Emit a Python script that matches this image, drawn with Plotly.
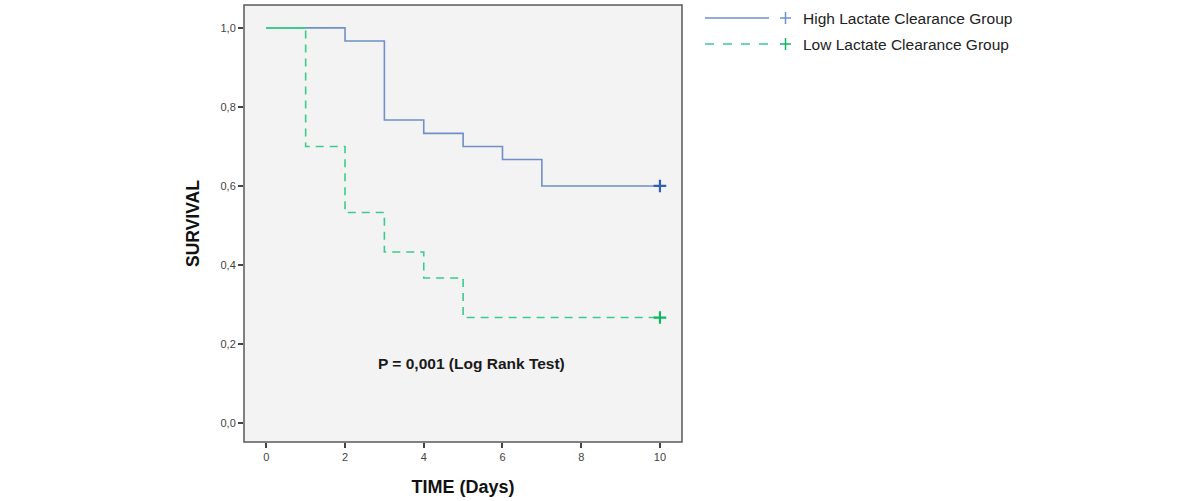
import plotly.graph_objects as go

# Kaplan-Meier data
high_times = [0, 2, 3, 4, 5, 6, 7, 10]
high_surv = [1.0, 0.967, 0.767, 0.733, 0.700, 0.667, 0.600, 0.600]
low_times = [0, 1, 2, 3, 4, 5, 10]
low_surv = [1.0, 0.700, 0.533, 0.433, 0.367, 0.267, 0.267]
censor_time = [10]
high_censor = [0.600]
low_censor = [0.267]
series_names = ["High Lactate Clearance Group", "Low Lactate Clearance Group"]
x_ticks = [0, 2, 4, 6, 8, 10]
y_ticks = [0.0, 0.2, 0.4, 0.6, 0.8, 1.0]

BLUE = "#6f90c9"
BLUE_D = "#2f62ad"
GREEN = "#3ccb8f"
GREEN_D = "#12b564"

fig = go.Figure()
fig.add_trace(go.Scatter(x=high_times, y=high_surv, mode="lines", line=dict(color=BLUE, width=1.6, shape="hv"),
                         name=series_names[0], showlegend=False))
fig.add_trace(go.Scatter(x=low_times, y=low_surv, mode="lines",
                         line=dict(color=GREEN, width=1.6, shape="hv", dash="8px,6px"),
                         name=series_names[1], showlegend=False))
fig.add_trace(go.Scatter(x=low_times[:2], y=[low_surv[0], low_surv[0]], mode="lines",
                         line=dict(color=GREEN, width=1.6), showlegend=False))
fig.add_trace(go.Scatter(x=censor_time, y=high_censor, mode="markers",
                         marker=dict(symbol="cross-thin", size=9, line=dict(color=BLUE_D, width=2.2)),
                         showlegend=False))
fig.add_trace(go.Scatter(x=censor_time, y=low_censor, mode="markers",
                         marker=dict(symbol="cross-thin", size=9, line=dict(color=GREEN_D, width=2.2)),
                         showlegend=False))

L, R, T, B = 244, 682, 5, 442
W, H = 1200, 501

def px(x):
    return (x - L) / (R - L)

def py(y):
    return (B - y) / (B - T)

shapes = []
annotations = []
# custom legend
legend_rows = [(18, BLUE, "solid", BLUE, series_names[0]), (44, GREEN, "dash", GREEN_D, series_names[1])]
for yy, col, dash, pcol, label in legend_rows:
    shapes.append(dict(type="line", xref="paper", yref="paper", x0=px(705), x1=px(769), y0=py(yy), y1=py(yy),
                       line=dict(color=col, width=1.5, dash=dash)))
    shapes.append(dict(type="line", xref="paper", yref="paper", x0=px(780), x1=px(791), y0=py(yy), y1=py(yy),
                       line=dict(color=pcol, width=1.5)))
    shapes.append(dict(type="line", xref="paper", yref="paper", x0=px(785.5), x1=px(785.5), y0=py(yy - 6), y1=py(yy + 6),
                       line=dict(color=pcol, width=1.5)))
    annotations.append(dict(xref="paper", yref="paper", x=px(801), y=py(yy), text=label, showarrow=False,
                            xanchor="left", yanchor="middle",
                            font=dict(family="Liberation Sans, Arial", size=15.5, color="#222")))

# frame
shapes.append(dict(type="rect", xref="paper", yref="paper", x0=0, x1=1, y0=0, y1=1,
                   line=dict(color="#5a5a5a", width=1.5), layer="above"))

annotations.append(dict(x=5.22, y=0.15, xref="x", yref="y", text="<b>P = 0,001 (Log Rank Test)</b>",
                        showarrow=False, font=dict(family="Liberation Sans, Arial", size=15.5, color="#1a1a1a")))

fig.update_layout(
    width=W, height=H,
    margin=dict(l=L, r=W - R, t=T, b=H - B),
    paper_bgcolor="white",
    plot_bgcolor="#f3f3f3",
    separators=", ",
    shapes=shapes,
    annotations=annotations,
    showlegend=False,
    font=dict(family="Liberation Sans, Arial", color="#333"),
)
fig.update_xaxes(range=[-0.566, 10.56], tickvals=x_ticks, ticks="outside", ticklen=5, tickcolor="#444",
                 tickwidth=1.5, showgrid=False, zeroline=False, showline=False,
                 tickfont=dict(size=11, color="#444"),
                 title=dict(text="<b>TIME (Days)</b>", font=dict(size=18, color="#111"), standoff=18))
fig.update_yaxes(range=[-0.048, 1.058], tickvals=y_ticks, tickformat=".1f", ticks="outside", ticklen=5,
                 tickcolor="#444", tickwidth=1.5, showgrid=False, zeroline=False, showline=False,
                 tickfont=dict(size=11, color="#444"),
                 title=dict(text="<b>SURVIVAL</b>", font=dict(size=17.5, color="#111"), standoff=16))

fig.write_html("out.html", config={"displayModeBar": False},
               post_script="document.body.style.margin='0';document.body.style.overflow='hidden';")
